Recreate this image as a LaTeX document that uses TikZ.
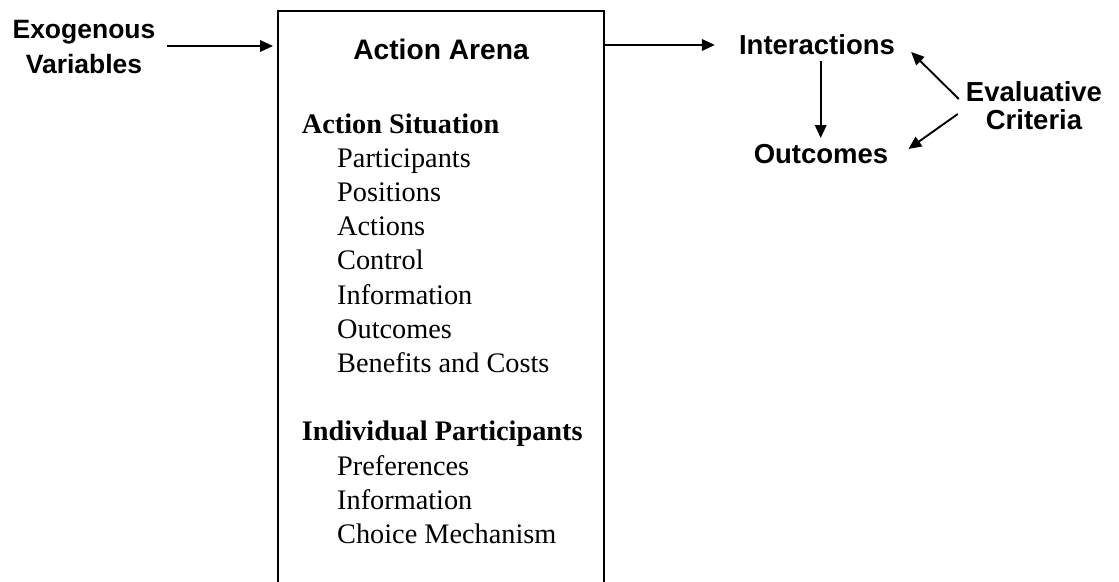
\documentclass[tikz,border=0pt]{standalone}
\usepackage{fontspec}
\setmainfont{Liberation Serif}
\newfontfamily\arialfont{Liberation Sans}
\usetikzlibrary{arrows.meta,calc}

\begin{document}
\begin{tikzpicture}[x=1pt,y=-1pt,
  label/.style={inner sep=0pt, anchor=base, font=\arialfont\bfseries\fontsize{27.5}{27.5}\selectfont},
  entry/.style={inner sep=0pt, anchor=base west, font=\fontsize{28.3}{34}\selectfont},
  heading/.style={entry, font=\bfseries\fontsize{28.3}{34}\selectfont},
  arrowline/.style={line width=1.9pt, -{Triangle[length=13pt,width=11.5pt]}},
  arenabox/.style={draw, line width=2pt, inner sep=0pt, anchor=north west,
    minimum width=326pt, minimum height=640pt}]
\useasboundingbox (0,0) rectangle (1119,581);

% the arena frame runs off the bottom of the page
\node[arenabox] (arena) at (277,10) {};
\node[label, font=\arialfont\bfseries\fontsize{28.2}{28.2}\selectfont] (title) at (441,59) {Action Arena};

% left-hand input
\node[label, font=\arialfont\bfseries\fontsize{26.5}{35}\selectfont] (exo) at (84,38.3)
  {\begin{tabular}[t]{@{}c@{}}Exogenous\\Variables\end{tabular}};

% contents of the action arena
\foreach \k/\xx/\txt/\sty in {0/301.7/Action Situation/heading,
    1/337/Participants/entry, 2/337/Positions/entry, 3/337/Actions/entry,
    4/337/Control/entry, 5/337/Information/entry, 6/337/Outcomes/entry,
    7/337/Benefits and Costs/entry,
    9/301.7/Individual Participants/heading,
    10/337/Preferences/entry, 11/337/Information/entry, 12/337/Choice Mechanism/entry}{
  \pgfmathsetmacro{\yy}{133+34.2*\k}
  \node[\sty] (item\k) at (\xx, \yy) {\txt};
}

% right-hand results
\node[label] (inter) at (817,54.3) {Interactions};
\node[label] (outc) at (821,163.3) {Outcomes};
\node[label, font=\arialfont\bfseries\fontsize{27.5}{25.6}\selectfont] (eval) at (1034,101.7)
  {\begin{tabular}[t]{@{}c@{}}Evaluative\\Criteria\end{tabular}};

% connectors
\coordinate (exoout) at ($(exo.base east)+(11.5,7.7)$);
\draw[arrowline, shorten >=4pt] (exoout) -- (exoout -| arena.west);

\coordinate (interin) at ($(inter.base west)+(-24,-9.3)$);
\draw[arrowline] (arena.east |- interin) -- (interin);

\coordinate (interdown) at ($(inter.base)+(3.7,6.4)$);
\coordinate (outcup) at ($(outc.base)+(0,-25.3)$);
\draw[arrowline] (interdown) -- (interdown |- outcup);

\draw[arrowline] ($(eval.base west)+(-7,-2.7)$) -- ($(inter.base east)+(16,-2.3)$);
\draw[arrowline] ($(eval.base west)+(-8,12.3)$) -- ($(outc.base east)+(20,-14.3)$);
\end{tikzpicture}
\end{document}
